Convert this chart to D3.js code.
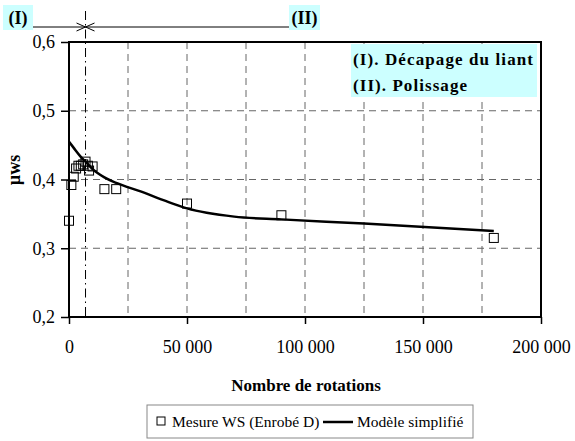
<!DOCTYPE html>
<html><head><meta charset="utf-8">
<script src="https://cdnjs.cloudflare.com/ajax/libs/d3/7.8.5/d3.min.js"></script>
<style>body{margin:0;background:#fff}svg{display:block}</style>
</head><body><svg id="c" width="575" height="441" font-family="'Liberation Serif', 'DejaVu Serif', serif"></svg>
<script>
// Measured points (Mesure WS, Enrobé D)
const mesX = [0, 1000, 2000, 3000, 4000, 5000, 6000, 7000, 8000, 8500, 10000, 15000, 20000, 50000, 90000, 180000];
const mesY = [0.340, 0.392, 0.404, 0.416, 0.420, 0.420, 0.422, 0.426, 0.420, 0.413, 0.419, 0.386, 0.386, 0.365, 0.348, 0.315];
// Simplified model
const modX = [0, 2000, 5000, 7000, 10000, 15000, 20000, 30000, 40000, 50000, 70000, 90000, 125000, 180000];
const modY = [0.455, 0.446, 0.433, 0.426, 0.415, 0.403, 0.395, 0.383, 0.370, 0.358, 0.346, 0.342, 0.336, 0.325];
const xTicks = [0, 50000, 100000, 150000, 200000];
const xGrid = [25000, 50000, 75000, 100000, 125000, 150000, 175000];
const yTicks = [0.2, 0.3, 0.4, 0.5, 0.6];
const yGrid = [0.3, 0.4, 0.5];
const phaseLimit = 7000;

const FONT = "'Liberation Serif', 'DejaVu Serif', serif";
const svg = d3.select("#c");
const L = 69, R = 541, T = 42, B = 317;
const x = d3.scaleLinear().domain([0, 200000]).range([L, R]);
const y = d3.scaleLinear().domain([0.2, 0.6]).range([B, T]);
const fmtX = d => d3.format(",")(d).replace(/,/g, "\u00a0");
const fmtY = d => d3.format(".1f")(d).replace(".", ",");

// grid
svg.append("g").selectAll("line").data(xGrid).join("line")
  .attr("x1", d => x(d)).attr("x2", d => x(d)).attr("y1", T).attr("y2", B)
  .attr("stroke", "#666").attr("stroke-width", 1).attr("stroke-dasharray", "7,5");
svg.append("g").selectAll("line").data(yGrid).join("line")
  .attr("y1", d => y(d)).attr("y2", d => y(d)).attr("x1", L).attr("x2", R)
  .attr("stroke", "#666").attr("stroke-width", 1).attr("stroke-dasharray", "7,5");

// axes
const xAxis = svg.append("g").attr("transform", `translate(0,${B})`)
  .call(d3.axisBottom(x).tickValues(xTicks).tickFormat(fmtX).tickSize(7).tickPadding(16));
const yAxis = svg.append("g").attr("transform", `translate(${L},0)`)
  .call(d3.axisLeft(y).tickValues(yTicks).tickFormat(fmtY).tickSize(8).tickPadding(6));
[xAxis, yAxis].forEach(g => {
  g.attr("font-family", FONT).attr("font-size", 18);
  g.select(".domain").remove();
  g.selectAll("line").attr("stroke", "#000").attr("stroke-width", 1.5);
  g.selectAll("text").attr("fill", "#000");
});

// frame
svg.append("rect").attr("x", L).attr("y", T).attr("width", R - L).attr("height", B - T)
  .attr("fill", "none").attr("stroke", "#000").attr("stroke-width", 2);

// phase limit dash-dot
svg.append("line").attr("x1", x(phaseLimit)).attr("x2", x(phaseLimit)).attr("y1", 11).attr("y2", B)
  .attr("stroke", "#000").attr("stroke-width", 1).attr("stroke-dasharray", "9,4,1.5,4");

// model line
svg.append("path").datum(modX.map((d, i) => [d, modY[i]]))
  .attr("d", d3.line().x(d => x(d[0])).y(d => y(d[1])).curve(d3.curveMonotoneX))
  .attr("fill", "none").attr("stroke", "#000").attr("stroke-width", 2.5);

// measured squares
svg.append("g").selectAll("rect").data(mesX.map((d, i) => [d, mesY[i]])).join("rect")
  .attr("x", d => x(d[0]) - 4.5).attr("y", d => y(d[1]) - 4.5).attr("width", 9).attr("height", 9)
  .attr("fill", "none").attr("stroke", "#000").attr("stroke-width", 1);

// top phase annotation
const cy = "#ccffff";
svg.append("rect").attr("x", 3).attr("y", 5).attr("width", 30).attr("height", 25).attr("fill", cy);
svg.append("rect").attr("x", 289).attr("y", 5).attr("width", 31).attr("height", 25).attr("fill", cy);
svg.append("text").attr("x", 18).attr("y", 24).attr("text-anchor", "middle").attr("font-size", 18).attr("font-weight", "bold").text("(I)");
svg.append("text").attr("x", 304.5).attr("y", 24).attr("text-anchor", "middle").attr("font-size", 18).attr("font-weight", "bold").text("(II)");
const px = x(phaseLimit), ay = 27;
svg.append("line").attr("x1", 33).attr("x2", 289).attr("y1", ay).attr("y2", ay).attr("stroke", "#000").attr("stroke-width", 1);
svg.append("path").attr("d", `M${px - 9},${ay - 4} L${px},${ay} L${px - 9},${ay + 4} M${px + 9},${ay - 4} L${px},${ay} L${px + 9},${ay + 4}`)
  .attr("fill", "none").attr("stroke", "#000").attr("stroke-width", 1);

// inner legend
svg.append("rect").attr("x", 351).attr("y", 44).attr("width", 186).attr("height", 53).attr("fill", cy);
svg.append("text").attr("x", 353).attr("y", 65).attr("font-size", 17).attr("font-weight", "bold")
  .attr("textLength", 180).attr("lengthAdjust", "spacing").text("(I). Décapage du liant");
svg.append("text").attr("x", 353).attr("y", 91).attr("font-size", 17).attr("font-weight", "bold")
  .attr("textLength", 114).attr("lengthAdjust", "spacing").text("(II). Polissage");

// axis titles
svg.append("text").attr("transform", "translate(20,170) rotate(-90)").attr("text-anchor", "middle")
  .attr("font-size", 18).attr("font-weight", "bold").text("µws");
svg.append("text").attr("x", 306).attr("y", 391).attr("text-anchor", "middle")
  .attr("font-size", 17).attr("font-weight", "bold").text("Nombre de rotations");

// bottom legend
const lg = svg.append("g");
lg.append("rect").attr("x", 147).attr("y", 405).attr("width", 326).attr("height", 33)
  .attr("fill", "#fff").attr("stroke", "#888").attr("stroke-width", 1);
lg.append("rect").attr("x", 157).attr("y", 417).attr("width", 8).attr("height", 8)
  .attr("fill", "none").attr("stroke", "#000").attr("stroke-width", 1);
lg.append("text").attr("x", 172).attr("y", 427).attr("font-size", 15.5).text("Mesure WS (Enrobé D)");
lg.append("line").attr("x1", 323).attr("x2", 353).attr("y1", 422).attr("y2", 422).attr("stroke", "#000").attr("stroke-width", 2.5);
lg.append("text").attr("x", 357).attr("y", 427).attr("font-size", 15.5).text("Modèle simplifié");
</script></body></html>
